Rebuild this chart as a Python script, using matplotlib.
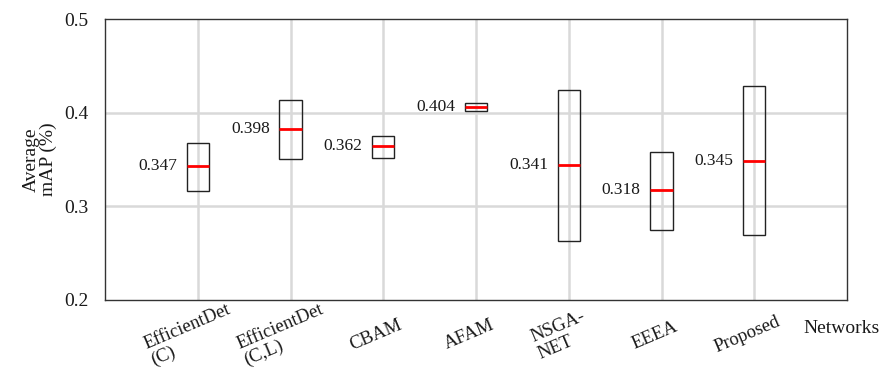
#Box-style chart of average mAP per network (min / max range with a red median line)

import matplotlib
matplotlib.use("Agg")
import matplotlib.pyplot as plt
from matplotlib import transforms

#network names shown under the x axis
networks = ["EfficientDet\n(C)", "EfficientDet\n(C,L)", "CBAM", "AFAM", "NSGA-\nNET", "EEEA", "Proposed"]

#range of each box
upper = [0.368, 0.414, 0.3755, 0.410, 0.424, 0.358, 0.4285]
lower = [0.316, 0.351, 0.352, 0.402, 0.263, 0.275, 0.269]
median = [0.343, 0.383, 0.3645, 0.406, 0.344, 0.317, 0.3485]

#printed values next to the boxes
value_labels = ["0.347", "0.398", "0.362", "0.404", "0.341", "0.318", "0.345"]

#y axis ticks
y_ticks = [0.2, 0.3, 0.4, 0.5]

plt.rcParams["font.family"] = ["Liberation Serif", "DejaVu Serif"]

fig = plt.figure(figsize=(8.83, 3.71), dpi=100)
ax = fig.add_axes([105 / 883, 1 - 300 / 371, 742 / 883, 281 / 371])

positions = list(range(1, len(networks) + 1))
box_width = 0.24

#grid lines behind everything
for y in y_ticks[1:-1]:
    ax.axhline(y, color="#d9d9d9", lw=1.8, zorder=0)
for x in positions:
    ax.axvline(x, color="#d9d9d9", lw=1.8, zorder=0)

#boxes (unfilled) and red median lines
heights = [u - l for u, l in zip(upper, lower)]
ax.bar(positions, heights, bottom=lower, width=box_width, fill=False,
       edgecolor="#222222", linewidth=1.0, zorder=2)
ax.hlines(median, [p - box_width / 2 for p in positions], [p + box_width / 2 for p in positions],
          colors="#ff0000", linewidth=2.0, zorder=3)

#value text to the left of each box
for p, m, txt in zip(positions, median, value_labels):
    ax.annotate(txt, (p - box_width / 2, m), xytext=(-7, 0), textcoords="offset points",
                ha="right", va="center", fontsize=12.5, color="#1a1a1a")

#axis limits and ticks
ax.set_xlim(0, len(networks) + 1)
ax.set_ylim(0.2, 0.5)
ax.set_yticks(y_ticks)
ax.set_yticklabels([f"{t:.1f}" for t in y_ticks])
ax.set_xticks([])
ax.tick_params(axis="y", length=0, pad=12, labelsize=14, labelcolor="#1a1a1a")

for side in ["top", "bottom", "left", "right"]:
    ax.spines[side].set_color("#333333")
    ax.spines[side].set_linewidth(1.0)

#rotated category labels
label_offset = transforms.ScaledTranslation(-7 / 100, -35 / 100, fig.dpi_scale_trans)
label_trans = transforms.blended_transform_factory(ax.transData, ax.transAxes) + label_offset
for p, name in zip(positions, networks):
    ax.text(p, 0, name, transform=label_trans, rotation=23, rotation_mode="anchor",
            ha="center", va="center", multialignment="left", fontsize=13.5,
            linespacing=1.1, color="#1a1a1a")

#axis titles
ax.set_ylabel("Average\nmAP (%)", fontsize=14, labelpad=5, linespacing=1.0, color="#1a1a1a")
ax.text(0.992, -0.10, "Networks", transform=ax.transAxes, ha="center", va="center",
        fontsize=14, color="#1a1a1a")

fig.savefig("out.png", dpi=100)
